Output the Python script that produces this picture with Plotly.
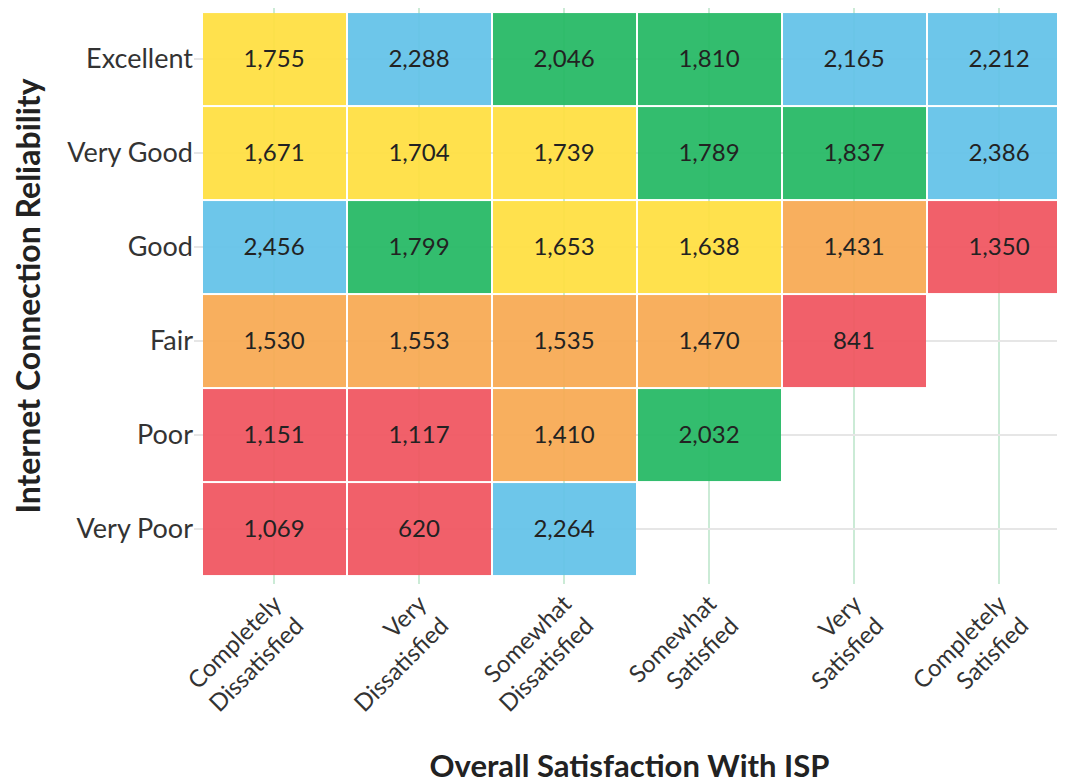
import plotly.graph_objects as go

satisfaction = ["Completely<br>Dissatisfied", "Very<br>Dissatisfied", "Somewhat<br>Dissatisfied",
                "Somewhat<br>Satisfied", "Very<br>Satisfied", "Completely<br>Satisfied"]
reliability = ["Excellent", "Very Good", "Good", "Fair", "Poor", "Very Poor"]

excellent = [1755, 2288, 2046, 1810, 2165, 2212]
very_good = [1671, 1704, 1739, 1789, 1837, 2386]
good = [2456, 1799, 1653, 1638, 1431, 1350]
fair = [1530, 1553, 1535, 1470, 841, None]
poor = [1151, 1117, 1410, 2032, None, None]
very_poor = [1069, 620, 2264, None, None, None]

rows = [excellent, very_good, good, fair, poor, very_poor]

# colour groups (quintiles of the values): red, orange, yellow, green, blue
group_colors = ["#F0545F", "#F8A952", "#FFDF40", "#24B964", "#62C2E9"]

vals = sorted(v for r in rows for v in r if v is not None)
per_group = len(vals) / len(group_colors)


def group_of(v):
    if v is None:
        return None
    return min(int(vals.index(v) // per_group), len(group_colors) - 1)


z = [[group_of(v) for v in r] for r in rows]
text = [["" if v is None else f"{v:,}" for v in r] for r in rows]

n = len(group_colors)
colorscale = []
for i, c in enumerate(group_colors):
    colorscale.append([i / n, c])
    colorscale.append([(i + 1) / n, c])

FONT = "Lato"

fig = go.Figure(go.Heatmap(
    z=z,
    x=list(range(len(satisfaction))),
    y=list(range(len(reliability))),
    text=text,
    texttemplate="%{text}",
    textfont=dict(family=FONT, size=24, color="#222222"),
    colorscale=colorscale,
    zmin=-0.5, zmax=n - 0.5,
    showscale=False,
    xgap=2, ygap=2,
    opacity=0.93,
    hoverinfo="skip",
))

fig.update_layout(
    width=1057, height=776,
    margin=dict(l=186, r=0, t=0, b=200),
    paper_bgcolor="white",
    plot_bgcolor="white",
    font=dict(family=FONT, color="#333333"),
)

fig.update_xaxes(
    tickvals=list(range(len(satisfaction))),
    ticktext=satisfaction,
    tickangle=-45,
    tickfont=dict(family=FONT, size=24, color="#333333"),
    range=[-0.555, 5.452],
    showgrid=True, gridcolor="#CBEBD6", gridwidth=1.5,
    zeroline=False, showline=False, ticks="",
    automargin=False,
    title=dict(text="<b>Overall Satisfaction With ISP</b>",
               font=dict(family=FONT, size=31, color="#222222"), standoff=41),
)
fig.update_yaxes(
    tickvals=list(range(len(reliability))),
    ticktext=reliability,
    tickfont=dict(family=FONT, size=27, color="#333333"),
    range=[5.585, -0.543],
    showgrid=True, gridcolor="#E6E6E6", gridwidth=1.5,
    zeroline=False, showline=False, ticks="",
    automargin=False,
    title=dict(text="<b>Internet Connection Reliability</b>",
               font=dict(family=FONT, size=32, color="#222222"), standoff=22),
)

fig.write_html("out.html")
